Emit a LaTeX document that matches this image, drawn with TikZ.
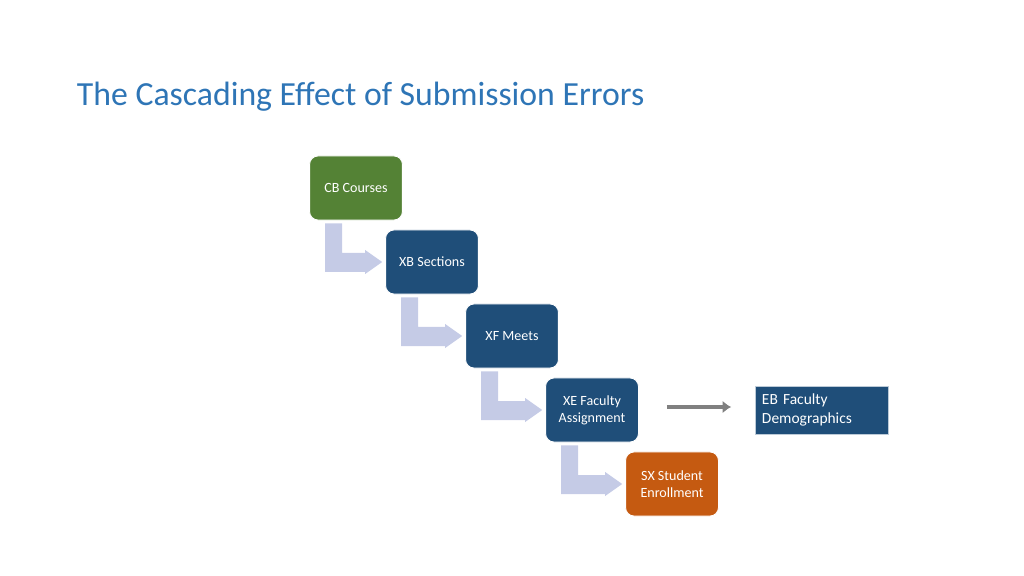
\documentclass[tikz,border=0pt]{standalone}
\usepackage{fontspec}
\setmainfont{Carlito}
\usetikzlibrary{calc,arrows.meta}
\definecolor{stepgreen}{HTML}{548235}
\definecolor{stepblue}{HTML}{1F4E79}
\definecolor{steporange}{HTML}{C55A11}
\definecolor{bendcol}{HTML}{C5CBE6}
\definecolor{titleblue}{HTML}{2E75B6}
\tikzset{
  stepbox/.style={draw=white, line width=0.6pt, rounded corners=6pt, minimum width=2.32cm,
    minimum height=1.6cm, text=white, font=\fontsize{10}{12}\selectfont, align=center, inner sep=2pt},
  sidebox/.style={draw=white!70!stepblue, fill=stepblue, text=white, minimum width=3.33cm,
    minimum height=1.2cm, font=\fontsize{11}{13}\selectfont, align=left, text width=3cm, inner sep=3pt}
}
\begin{document}
\begin{tikzpicture}[x=0.025cm, y=-0.025cm]
  \useasboundingbox (0,0) rectangle (1024,576);

  \node[anchor=west, text=titleblue, font=\fontsize{24}{28}\selectfont] (title) at (72,97)
    {The Cascading Effect of Submission Errors};

  \node[stepbox, fill=stepgreen]  (cb) at (356,188) {CB Courses};
  \node[stepbox, fill=stepblue]   (xb) at (432,262) {XB Sections};
  \node[stepbox, fill=stepblue]   (xf) at (512,336) {XF Meets};
  \node[stepbox, fill=stepblue]   (xe) at (592,410) {XE Faculty\\Assignment};
  \node[stepbox, fill=steporange] (sx) at (672,484) {SX Student\\Enrollment};
  \node[sidebox] (eb) at (822,410) {EB Faculty\\Demographics};

  % bent arrows between the steps
  \foreach \a/\b in {cb/xb, xb/xf, xf/xe, xe/sx} {
    \coordinate (top) at ($(\a.south west)+(16,3)$);
    \coordinate (tip) at ($(\b.west)+(-3,0)$);
    \coordinate (bot) at ($(tip)+(0,10)$);
    \fill[bendcol] (top) -- ++(17,0) |- ($(tip)+(-17,-9)$) -- ++(0,-3) -- (tip)
      -- ($(tip)+(-17,12)$) -- ++(0,-2) -- (top |- bot) -- cycle;
  }

  \draw[gray, line width=2.5pt, -{Latex[length=6pt,width=9pt]}] ($(xe.east)+(28,-3)$) -- ($(eb.west)+(-24,-3)$);
\end{tikzpicture}
\end{document}
